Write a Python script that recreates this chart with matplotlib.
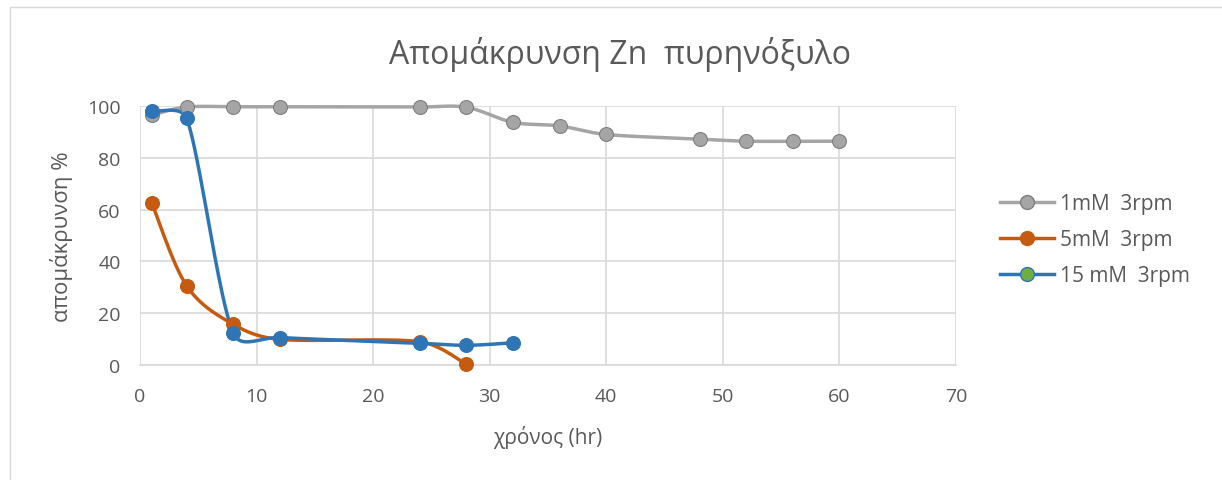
import numpy as np
import matplotlib
matplotlib.use('Agg')
import matplotlib.pyplot as plt
from matplotlib.lines import Line2D
from matplotlib.patches import Rectangle

plt.rcParams['font.family'] = ['Open Sans', 'DejaVu Sans']

# time (hr) and removal (%) per concentration
t_1mM = [1, 4, 8, 12, 24, 28, 32, 36, 40, 48, 52, 56, 60]
r_1mM = [96.5, 99.6, 99.7, 99.7, 99.6, 99.5, 93.7, 92.3, 89.0, 87.2, 86.4, 86.4, 86.4]
t_5mM = [1, 4, 8, 12, 24, 28]
r_5mM = [62.7, 30.6, 15.7, 9.9, 9.0, 0.3]
t_15mM = [1, 4, 8, 12, 24, 28, 32]
r_15mM = [97.9, 95.3, 12.3, 10.6, 8.4, 7.6, 8.6]

labels = ['1mM  3rpm', '5mM  3rpm', '15 mM  3rpm']
title = 'Απομάκρυνση Zn  πυρηνόξυλο'
xlabel = 'χρόνος (hr)'
ylabel = 'απομάκρυνση %'

# pixels per data unit, used so the smoothing works in screen space
SX, SY = 816 / 70, 259 / 100


def smooth(x, y, n=40, k=1 / 6, clamp=0.4):
    # bezier through the points; tangent handles limited by the segment length
    p = np.column_stack([np.asarray(x) * SX, np.asarray(y) * SY]).astype(float)
    ext = np.vstack([p[0], p, p[-1]])
    out = []
    s = np.linspace(0, 1, n)[:, None]
    for i in range(len(p) - 1):
        p0, p1, p2, p3 = ext[i], ext[i + 1], ext[i + 2], ext[i + 3]
        seglen = np.hypot(*(p2 - p1))
        d1 = (p2 - p0) * k
        d2 = (p3 - p1) * k
        for d in (d1, d2):
            L = np.hypot(*d)
            if L > clamp * seglen:
                d *= clamp * seglen / L
        c1, c2 = p1 + d1, p2 - d2
        seg = ((1 - s) ** 3) * p1 + 3 * ((1 - s) ** 2) * s * c1 + 3 * (1 - s) * s ** 2 * c2 + s ** 3 * p2
        out.append(seg if i == 0 else seg[1:])
    seg = np.vstack(out)
    return seg[:, 0] / SX, seg[:, 1] / SY


fig = plt.figure(figsize=(12.22, 4.81), dpi=100)
fig.patches.append(Rectangle((10 / 1222, -0.01), 1.1, 1 - 8 / 481 + 0.01, transform=fig.transFigure,
                             fill=False, edgecolor='#D9D9D9', linewidth=1))
ax = fig.add_axes([140 / 1222, 1 - 366 / 481, 816 / 1222, 259 / 481])

grey, orange, blue = '#A5A5A5', '#C55A11', '#2E75B6'
series = [(t_1mM, r_1mM, grey, '#7F7F7F'), (t_5mM, r_5mM, orange, orange), (t_15mM, r_15mM, blue, blue)]
for x, y, c, ec in series:
    sx, sy = smooth(x, y)
    ax.plot(sx, sy, color=c, linewidth=2.5, solid_capstyle='round', zorder=3, clip_on=False)
    ax.plot(x, y, linestyle='none', marker='o', markersize=10, markerfacecolor=c,
            markeredgecolor=ec, markeredgewidth=0.8, zorder=4, clip_on=False)

ax.set_xlim(0, 70)
ax.set_ylim(0, 100)
ax.set_xticks(np.arange(0, 71, 10))
ax.set_yticks(np.arange(0, 101, 20))
ax.grid(True, color='#D9D9D9', linewidth=1.2)
ax.set_axisbelow(True)
for s in ['top', 'right', 'left']:
    ax.spines[s].set_visible(False)
ax.spines['bottom'].set_color('#D9D9D9')
ax.spines['bottom'].set_linewidth(1.2)
ax.tick_params(length=0, labelsize=14, colors='#595959')
ax.tick_params(axis='y', pad=14)
ax.tick_params(axis='x', pad=16)
ax.set_xlabel(xlabel, fontsize=15, color='#595959', labelpad=14)
ax.set_ylabel(ylabel, fontsize=16, color='#595959', labelpad=10)
fig.text(0.507, 0.886, title, ha='center', va='center', fontsize=23, color='#595959')

handles = [
    Line2D([], [], color=grey, lw=2.5, marker='o', ms=10, mfc=grey, mec='#7F7F7F'),
    Line2D([], [], color=orange, lw=2.5, marker='o', ms=10, mfc=orange, mec=orange),
    Line2D([], [], color=blue, lw=2.5, marker='o', ms=10, mfc='#70AD47', mec=blue),
]
fig.legend(handles, labels, loc='center left', bbox_to_anchor=(0.803, 0.5), frameon=False,
           fontsize=15, labelcolor='#595959', handlelength=2.6, labelspacing=0.72, handletextpad=0.3)

fig.savefig('out.png', dpi=100)
